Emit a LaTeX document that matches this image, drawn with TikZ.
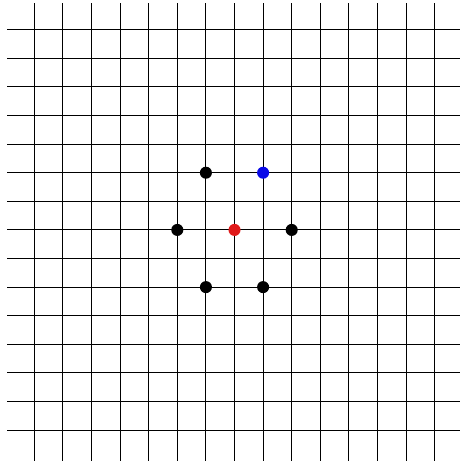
\documentclass[tikz,border=0pt]{standalone}
\usepackage{tikz}
\usepackage{xcolor}
\definecolor{ink}{HTML}{000000}
\definecolor{centre}{HTML}{E01A1A}
\definecolor{mark}{HTML}{0A0AE8}
\begin{document}
\begin{tikzpicture}[
  gl/.style={draw=ink,line width=1.1pt},
  dot/.style={circle,fill=ink,inner sep=0pt,minimum size=12pt}]
  \useasboundingbox (-1.2,-1.08) rectangle (14.88,15.04);

  % the square lattice
  \foreach \k in {0,...,14}{
    \draw[gl] (\k,-1.08) -- (\k,14.95);
    \draw[gl] (-0.95,\k) -- (14.88,\k);
  }

  % centre site and its neighbours
  \node[dot,fill=centre] (C) at (7,7) {};
  \node[dot,fill=mark] (N1) at (8,9) {};
  \foreach \x/\y/\nm in {6/9/N2, 5/7/N3, 9/7/N4, 6/5/N5, 8/5/N6}{
    \node[dot] (\nm) at (\x,\y) {};
  }
\end{tikzpicture}
\end{document}
